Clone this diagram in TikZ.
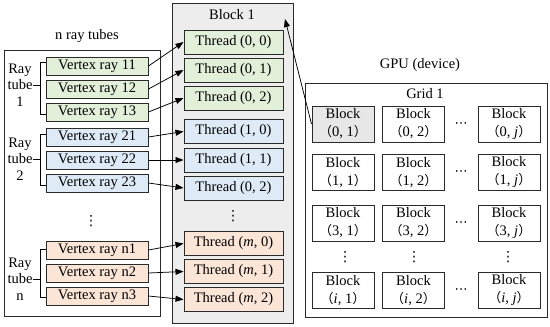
\documentclass[tikz,border=0pt]{standalone}
\usepackage{fontspec}
\setmainfont{Liberation Serif}
\newfontfamily\cjk{Noto Sans CJK SC}
\newfontfamily\dejavu{DejaVu Sans}
\usetikzlibrary{arrows.meta,calc}
\definecolor{vgreen}{HTML}{E2EFD9}
\definecolor{vblue}{HTML}{DEEBF7}
\definecolor{vorange}{HTML}{FBE5D6}
\definecolor{blkgray}{HTML}{EDEDED}
\definecolor{cellgray}{HTML}{E7E7E7}
\definecolor{edge}{HTML}{2A2A2A}
\newcommand{\lp}{{\cjk\fontsize{13}{13}\selectfont （}}
\newcommand{\rp}{{\cjk\fontsize{13}{13}\selectfont ）}}
\newcommand{\vdt}{{\dejavu\fontsize{14}{14}\selectfont ⋮}}
\newcommand{\hdt}{{\dejavu\fontsize{13}{13}\selectfont ⋯}}
\tikzset{
  vbox/.style={draw=edge, line width=1pt, minimum width=102pt, minimum height=18pt, inner sep=0pt},
  tbox/.style={draw=edge, line width=1pt, minimum width=99pt, minimum height=24pt, inner sep=0pt},
  cell/.style={draw=edge, line width=1pt, fill=white, minimum width=62pt, minimum height=36pt, inner sep=0pt, align=center, font=\fontsize{14.5}{18}\selectfont},
  frame/.style={draw=edge, line width=1pt},
  conn/.style={-{Triangle[length=8pt,width=6pt]}, line width=0.75pt},
  brk/.style={line width=0.75pt},
  lbl/.style={inner sep=0pt},
  tubelbl/.style={inner sep=0pt, align=center, font=\fontsize{14.5}{16.5}\selectfont},
}
\begin{document}
\begin{tikzpicture}[x=1pt,y=-1pt,font=\fontsize{14.5}{16.5}\selectfont]
\useasboundingbox (0,0) rectangle (550,327);

% Left frame
\node[lbl] (nrt) at (87,36) {n ray tubes};
\draw[frame] (4,50) rectangle (160,316);

% Block 1 frame
\draw[frame, fill=blkgray] (172,3) rectangle (293,323);
\node[lbl] (b1title) at (232,15) {Block 1};
\coordinate (blk1tip) at (285,19);

% vertex boxes
\node[vbox, fill=vgreen] (v11) at (97,66) {Vertex ray 11};
\node[vbox, fill=vgreen] (v12) at (97,89) {Vertex ray 12};
\node[vbox, fill=vgreen] (v13) at (97,112) {Vertex ray 13};
\node[vbox, fill=vblue] (v21) at (97,137) {Vertex ray 21};
\node[vbox, fill=vblue] (v22) at (97,160) {Vertex ray 22};
\node[vbox, fill=vblue] (v23) at (97,183) {Vertex ray 23};
\node[vbox, fill=vorange] (vn1) at (97,250) {Vertex ray n1};
\node[vbox, fill=vorange] (vn2) at (97,273) {Vertex ray n2};
\node[vbox, fill=vorange] (vn3) at (97,296) {Vertex ray n3};
\node[lbl] (vdl) at (91,221) {\vdt};

% thread boxes
\node[tbox, fill=vgreen] (t00) at (233.5,42) {Thread (0, 0)};
\node[tbox, fill=vgreen] (t01) at (233.5,70) {Thread (0, 1)};
\node[tbox, fill=vgreen] (t02) at (233.5,98) {Thread (0, 2)};
\node[tbox, fill=vblue] (t10) at (233.5,131.5) {Thread (1, 0)};
\node[tbox, fill=vblue] (t11) at (233.5,160) {Thread (1, 1)};
\node[tbox, fill=vblue] (t12) at (233.5,188) {Thread (0, 2)};
\node[lbl] (vdt) at (233,216) {\vdt};
\node[tbox, fill=vorange] (tm0) at (233.5,243.5) {Thread (\textit{m}, 0)};
\node[tbox, fill=vorange] (tm1) at (233.5,271.5) {Thread (\textit{m}, 1)};
\node[tbox, fill=vorange] (tm2) at (233.5,299.5) {Thread (\textit{m}, 2)};

% connectors vertex -> thread
\draw[conn] (v11.east) -- (t00.west);
\draw[conn] (v12.east) -- (t01.west);
\draw[conn] (v13.east) -- (t02.west);
\draw[conn] (v21.east) -- (t10.west);
\draw[conn] (v22.east) -- (t11.west);
\draw[conn] (v23.east) -- (t12.west);
\draw[conn] (vn1.east) -- (tm0.west);
\draw[conn] (vn2.east) -- (tm1.west);
\draw[conn] (vn3.east) -- (tm2.west);

% ray tube labels and brackets
\node[tubelbl] (rt1) at (20,85) {Ray\\tube\\1};
\node[tubelbl] (rt2) at (20,159) {Ray\\tube\\2};
\node[tubelbl] (rtn) at (20,279) {Ray\\tube\\n};
\draw[brk] ([yshift=4pt]v11.west) -- ++(-5,0) |- ([yshift=-2pt]v13.west);
\draw[brk] (rt1.east) -- (41,85);
\draw[brk] ([yshift=3pt]v21.west) -- ++(-5,0) |- ([yshift=-2pt]v23.west);
\draw[brk] (rt2.east) -- (41,159);
\draw[brk] ([yshift=1pt]vn1.west) -- ++(-5,0) |- ([yshift=-1pt]vn3.west);
\draw[brk] (rtn.east) -- (41,279);

% GPU grid
\node[lbl] (gpu) at (420,65) {GPU (device)};
\draw[frame] (305,83) rectangle (547,317);
\node[lbl] (grid1) at (425,94) {Grid 1};

\node[cell, fill=cellgray] (b01) at (343,124) {Block\\\lp0, 1\rp};
\node[cell] (b02) at (413.5,124) {Block\\\lp0, 2\rp};
\node[cell] (b0j) at (509,124) {Block\\\lp0, \textit{j}\rp};
\node[cell] (b11) at (343,172.5) {Block\\\lp1, 1\rp};
\node[cell] (b12) at (413.5,172.5) {Block\\\lp1, 2\rp};
\node[cell] (b1j) at (509,172.5) {Block\\\lp1, \textit{j}\rp};
\node[cell] (b31) at (343,223) {Block\\\lp3, 1\rp};
\node[cell] (b32) at (413.5,223) {Block\\\lp3, 2\rp};
\node[cell] (b3j) at (509,223) {Block\\\lp3, \textit{j}\rp};
\node[cell] (bi1) at (343,290.5) {Block\\\lp\textit{i}, 1\rp};
\node[cell] (bi2) at (413.5,290.5) {Block\\\lp\textit{i}, 2\rp};
\node[cell] (bij) at (509,290.5) {Block\\\lp\textit{i}, \textit{j}\rp};

\node[lbl] (hd0) at (461,125) {\hdt};
\node[lbl] (hd1) at (461,173.5) {\hdt};
\node[lbl] (hd3) at (461,224) {\hdt};
\node[lbl] (hdi) at (461,291.5) {\hdt};
\node[lbl] (vd1) at (345,257) {\vdt};
\node[lbl] (vd2) at (414,257) {\vdt};
\node[lbl] (vd3) at (508,257) {\vdt};

\draw[conn] (b01.west) -- (blk1tip);
\end{tikzpicture}
\end{document}
